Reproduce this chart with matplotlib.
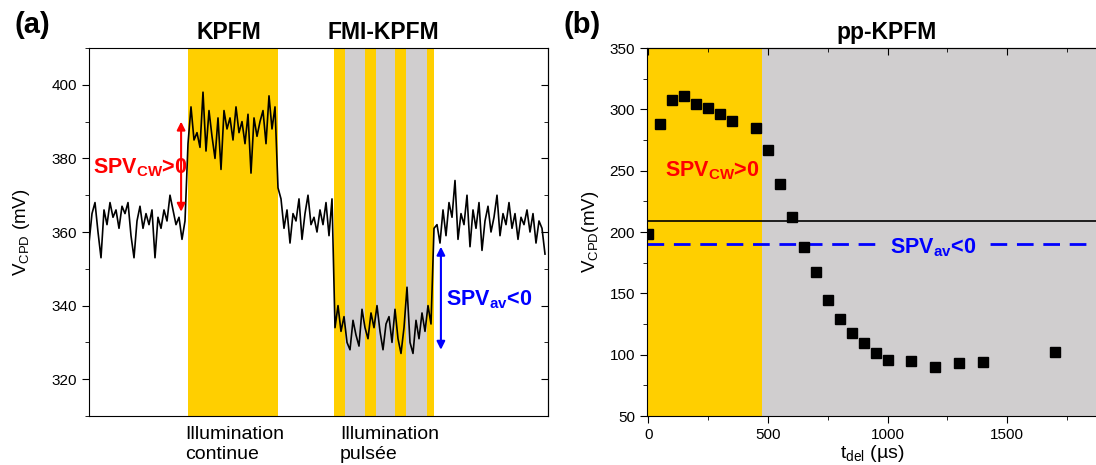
import numpy as np
import matplotlib
matplotlib.use("Agg")
import matplotlib.pyplot as plt
import matplotlib.transforms as mtransforms
from matplotlib.ticker import MultipleLocator

plt.rcParams['font.family'] = ['Liberation Sans', 'DejaVu Sans']
plt.rcParams['mathtext.fontset'] = 'custom'
plt.rcParams['mathtext.rm'] = 'Liberation Sans'
plt.rcParams['mathtext.bf'] = 'Liberation Sans:bold'
plt.rcParams['mathtext.it'] = 'Liberation Sans:italic'

# ---------------- data: panel (a) time trace (mV), by segment ----------------
dark_before = [357, 365, 368, 360, 353, 366, 362, 368, 364, 366,
               361, 367, 365, 368, 359, 353, 363, 367, 361, 365,
               362, 366, 353, 364, 361, 366, 363, 370, 366, 362,
               364, 358, 363]
cw_light = [384, 394, 385, 387, 383, 398, 382, 393, 386, 380,
            391, 377, 393, 388, 391, 385, 394, 387, 390, 384,
            392, 376, 391, 386, 390, 393, 384, 397, 388, 394]
dark_middle = [372, 369, 361, 366, 357, 365, 363, 369, 358, 365,
               370, 362, 364, 360, 366, 362, 368, 359, 369]
pulsed_light = [334, 340, 333, 337, 330, 328, 336, 332, 329, 339,
                334, 331, 338, 334, 340, 333, 328, 335, 337, 330,
                339, 331, 327, 334, 345, 330, 327, 336, 331, 338,
                333, 340, 335]
dark_after = [361, 362, 357, 366, 359, 368, 364, 374, 358, 365,
              362, 370, 356, 366, 361, 368, 355, 363, 367, 360,
              364, 370, 359, 365, 362, 368, 361, 365, 358, 364,
              362, 366, 360, 365, 357, 363, 361, 354]

# illumination windows (sample index units)
cw_window = (33, 63)
pulse_on = [(81.7, 85.3), (92.0, 95.7), (102.0, 105.7), (112.7, 115.0)]
pulse_off = [(85.3, 92.0), (95.7, 102.0), (105.7, 112.7)]

# ---------------- data: panel (b) pp-KPFM ----------------
t_del = [0, 50, 100, 150, 200, 250, 300, 350, 450, 500, 550, 600, 650, 700,
         750, 800, 850, 900, 950, 1000, 1100, 1200, 1300, 1400, 1700]
v_cpd = [198, 288, 308, 311, 304, 301, 296, 290.5, 284.5, 266.6, 239, 212.5,
         187.5, 167, 144.3, 129, 117.4, 109.3, 101, 96, 95, 89.7, 93.5, 94.3,
         102.4]
pulse_end = 475
v_dark = 208.7
v_av = 190

YELLOW = '#FFCF00'
GRAY = '#D0CECF'

fig = plt.figure(figsize=(10.96, 4.65), dpi=100)
W, H = 1096, 465

# ---------------- panel (a) ----------------
axa = fig.add_axes([89 / W, 1 - 416 / H, (548 - 89) / W, (416 - 48) / H])
trace = dark_before + cw_light + dark_middle + pulsed_light + dark_after
idx = np.arange(len(trace))
axa.axvspan(*cw_window, color=YELLOW, lw=0, zorder=0)
for a, b in pulse_on:
    axa.axvspan(a, b, color=YELLOW, lw=0, zorder=0)
for a, b in pulse_off:
    axa.axvspan(a, b, color=GRAY, lw=0, zorder=0)
axa.plot(idx, trace, color='black', lw=1.2, zorder=2)
axa.set_xlim(0, 153)
axa.set_ylim(310, 410)
axa.yaxis.set_major_locator(MultipleLocator(20))
axa.yaxis.set_minor_locator(MultipleLocator(10))
axa.set_xticks([])
axa.tick_params(axis='y', which='both', direction='out', labelsize=11, right=False)
axa.tick_params(axis='y', which='major', length=5)
axa.tick_params(axis='y', which='minor', length=3)
# mirrored inward ticks on right
sec = axa.secondary_yaxis('right')
sec.yaxis.set_major_locator(MultipleLocator(20))
sec.yaxis.set_minor_locator(MultipleLocator(10))
sec.tick_params(axis='y', which='both', direction='in', labelright=False)
sec.tick_params(axis='y', which='major', length=5)
sec.tick_params(axis='y', which='minor', length=3)
axa.set_ylabel('V$_{\\mathrm{CPD}}$ (mV)', fontsize=13.5, labelpad=14)

trans_a = mtransforms.blended_transform_factory(axa.transData, axa.transAxes)
axa.text(46.5, 1.043, 'KPFM', transform=trans_a, ha='center', va='center',
         fontsize=16.5, fontweight='bold')
axa.text(98, 1.043, 'FMI-KPFM', transform=trans_a, ha='center', va='center',
         fontsize=16.5, fontweight='bold')
axa.text(32, -0.027, 'Illumination\ncontinue', transform=trans_a, ha='left',
         va='top', fontsize=14, linespacing=1.2)
axa.text(83.7, -0.027, 'Illumination\npulsée', transform=trans_a, ha='left',
         va='top', fontsize=14, linespacing=1.2)

axa.annotate('', xy=(30.7, 390), xytext=(30.7, 365.5),
             arrowprops=dict(arrowstyle='<|-|>', color='red', lw=1.5,
                             mutation_scale=12, shrinkA=0, shrinkB=0))
axa.text(1.3, 377.5, 'SPV$_{\\mathbf{CW}}$>0', color='red', fontsize=15.5,
         fontweight='bold', ha='left', va='center')
axa.annotate('', xy=(117.3, 356), xytext=(117.3, 328),
             arrowprops=dict(arrowstyle='<|-|>', color='blue', lw=1.5,
                             mutation_scale=12, shrinkA=0, shrinkB=0))
axa.text(119, 341.7, 'SPV$_{\\mathbf{av}}$<0', color='blue', fontsize=15.5,
         fontweight='bold', ha='left', va='center')

fig.text(14 / W, 1 - 25 / H, '(a)', fontsize=21, fontweight='bold',
         ha='left', va='center')

# ---------------- panel (b) ----------------
axb = fig.add_axes([647 / W, 1 - 416 / H, (1096 - 647) / W + 0.002, (416 - 48) / H])
axb.set_xlim(-5, 1880)
axb.set_ylim(50, 350)
axb.axvspan(-5, pulse_end, color=YELLOW, lw=0, zorder=0)
axb.axvspan(pulse_end, 1880, color=GRAY, lw=0, zorder=0)
axb.axhline(v_dark, color='black', lw=1.2, zorder=1)
axb.axhline(v_av, color='blue', lw=2, ls=(0, (6, 3.5)), zorder=1)
axb.plot(t_del, v_cpd, ls='none', marker='s', ms=7, color='black', zorder=3)

axb.xaxis.set_major_locator(MultipleLocator(500))
axb.xaxis.set_minor_locator(MultipleLocator(250))
axb.yaxis.set_major_locator(MultipleLocator(50))
axb.yaxis.set_minor_locator(MultipleLocator(25))
axb.tick_params(which='both', direction='out', labelsize=11, top=False, right=False)
axb.tick_params(which='major', length=5)
axb.tick_params(which='minor', length=3)
secx = axb.secondary_xaxis('top')
secx.xaxis.set_major_locator(MultipleLocator(500))
secx.xaxis.set_minor_locator(MultipleLocator(250))
secx.tick_params(axis='x', which='both', direction='in', labeltop=False)
secx.tick_params(axis='x', which='major', length=5)
secx.tick_params(axis='x', which='minor', length=3)
axb.spines['right'].set_visible(False)

axb.set_xlabel('t$_{\\mathrm{del}}$ (µs)', fontsize=14, labelpad=1)
axb.set_ylabel('V$_{\\mathrm{CPD}}$(mV)', fontsize=13.5, labelpad=6)
axb.text(0.532, 1.043, 'pp-KPFM', transform=axb.transAxes, fontsize=16.5,
         fontweight='bold', ha='center', va='center')

axb.text(268, 250, 'SPV$_{\\mathbf{CW}}$>0', color='red', fontsize=15.5,
         fontweight='bold', ha='center', va='center')
axb.text(1190, 187, 'SPV$_{\\mathbf{av}}$<0', color='blue', fontsize=15.5,
         fontweight='bold', ha='center', va='center',
         bbox=dict(facecolor=GRAY, edgecolor='none', pad=6))

fig.text(563 / W, 1 - 25 / H, '(b)', fontsize=21, fontweight='bold',
         ha='left', va='center')

fig.savefig('out.png', dpi=100)
